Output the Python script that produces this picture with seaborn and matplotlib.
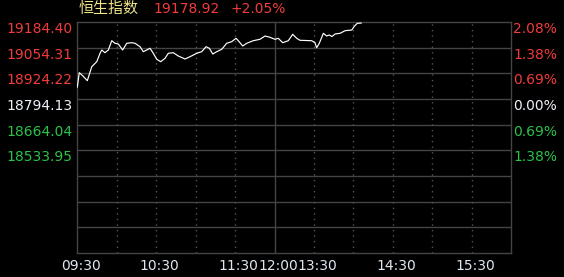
import matplotlib
matplotlib.use("Agg")
import matplotlib.pyplot as plt
import matplotlib.transforms as mtrans
import seaborn as sns

# ---------------- data ----------------
# trading minutes since 09:30 (12:00 and 13:00 share minute 150)
minutes = [0, 1.5, 4.3, 7.6, 11, 14.8, 17.3, 18.6, 21, 23.6, 26.2, 28.7, 31.2, 34.5,
           37.6, 41.4, 43.9, 47.7, 50.2, 52.8, 55.3, 57.8, 60.4, 63.4, 66.7, 69.2,
           73, 76.8, 81.9, 85.7, 90.8, 94.6, 97.9, 100.4, 103, 106, 109.8, 113.6,
           117.4, 120.7, 122.4, 125.8, 128.8, 133.8, 138.9, 142.7, 146.5, 150.3,
           152.8, 156.2, 160.4, 163.8, 166.8, 169.3, 178.2, 180.7, 182, 184, 187.1,
           189.6, 191.6, 193.7, 196, 199.8, 203.6, 208.7, 210.4, 212.9, 216]
values = [18853.5, 18927.5, 18910.7, 18886.9, 18957.9, 18983.2, 19025.8, 19042.5,
          19028.8, 19042.5, 19089.6, 19076.5, 19072.9, 19042.5, 19076.5, 19079.5,
          19076.5, 19059.2, 19033.9, 19042.5, 19051.1, 19025.8, 18995.4, 18983.2,
          19000.4, 19025.8, 19028.8, 19012.1, 18996.9, 19008.5, 19025.8, 19033.9,
          19059.2, 19051.1, 19022.2, 19033.9, 19046.0, 19076.5, 19084.6, 19101.8,
          19089.6, 19062.8, 19076.5, 19089.6, 19096.7, 19113.4, 19106.9, 19096.7,
          19101.8, 19079.5, 19089.6, 19122.1, 19101.8, 19091.7, 19089.6, 19079.5,
          19054.2, 19076.5, 19127.1, 19113.4, 19118.5, 19110.9, 19123.6, 19127.1,
          19140.3, 19143.9, 19160.6, 19177.8, 19178.92]

price_levels = [19184.40, 19054.31, 18924.22, 18794.13, 18664.04, 18533.95]
price_labels = ["19184.40", "19054.31", "18924.22", "18794.13", "18664.04", "18533.95"]
pct_labels = ["2.08%", "1.38%", "0.69%", "0.00%", "0.69%", "1.38%"]
xtick_minutes = [0, 60, 120, 150, 180, 240, 300]
xtick_labels = ["09:30", "10:30", "11:30", "12:00", "13:30", "14:30", "15:30"]
title_name = "恒生指数"
title_price = "19178.92"
title_change = "+2.05%"

# ---------------- style ----------------
RED = "#f03c3c"
GREEN = "#2bc24a"
WHITE = "#eef2f8"
YELLOW = "#ece58a"
GRID = "#444444"
BG = "black"

sns.set_theme(style="dark")
plt.rcParams["font.family"] = ["DejaVu Sans", "Noto Sans CJK SC"]

fig = plt.figure(figsize=(5.64, 2.77), dpi=100, facecolor=BG)
L, R, T, B = 77.3, 511.3, 22, 253
W, H = 564, 277
ax = fig.add_axes([L / W, (H - B) / H, (R - L) / W, (B - T) / H])
ax.set_facecolor(BG)

step = price_levels[0] - price_levels[1]
ymax = price_levels[0]
ymin = ymax - 9 * step
ax.set_xlim(0, 330)
ax.set_ylim(ymin, ymax)

# grid
for k in range(1, 9):
    ax.axhline(ymax - k * step, color=GRID, lw=1, zorder=1)
for m in range(30, 330, 30):
    if m == 150:
        ax.axvline(m, color=GRID, lw=1, zorder=1)
    else:
        ax.axvline(m, color="#555555", lw=1, ls=(0, (1, 3)), zorder=1)
for s in ax.spines.values():
    s.set_color(GRID)
    s.set_linewidth(1)

sns.lineplot(x=minutes, y=values, ax=ax, color="white", lw=0.85, zorder=3)

# left labels
ax.set_yticks(price_levels)
ax.set_yticklabels(price_labels)
left_colors = [RED, RED, RED, WHITE, GREEN, GREEN]
ax.tick_params(axis="y", length=0, pad=3.3, labelsize=10)
for lbl, c in zip(ax.get_yticklabels(), left_colors):
    lbl.set_color(c)
    lbl.set_verticalalignment("top")

# x labels
ax.set_xticks(xtick_minutes)
ax.set_xticklabels(xtick_labels)
ax.tick_params(axis="x", length=0, pad=4.5, labelsize=10, labelcolor="#dfe8f2")
off = mtrans.ScaledTranslation(3.5 / 100, 0, fig.dpi_scale_trans)
for lbl in ax.get_xticklabels():
    lbl.set_transform(lbl.get_transform() + off)
ax.set_xlabel("")
ax.set_ylabel("")
ax.grid(False)

# right labels
ax2 = ax.twinx()
ax2.set_ylim(ymin, ymax)
ax2.set_yticks(price_levels)
ax2.set_yticklabels(pct_labels)
ax2.tick_params(axis="y", length=0, pad=1.5, labelsize=10)
for lbl, c in zip(ax2.get_yticklabels(), left_colors):
    lbl.set_color(c)
    lbl.set_verticalalignment("top")
ax2.grid(False)
for s in ax2.spines.values():
    s.set_visible(False)

# title
ty = 1 - 9 / H
fig.text(79 / W, ty, title_name, color=YELLOW, fontsize=10.8,
         family=["Noto Sans CJK SC", "DejaVu Sans"], va="center", ha="left")
fig.text(153 / W, ty, title_price, color=RED, fontsize=10, va="center", ha="left")
fig.text(230 / W, ty, title_change, color=RED, fontsize=10, va="center", ha="left")

fig.savefig("out.png", dpi=100, facecolor=BG)
